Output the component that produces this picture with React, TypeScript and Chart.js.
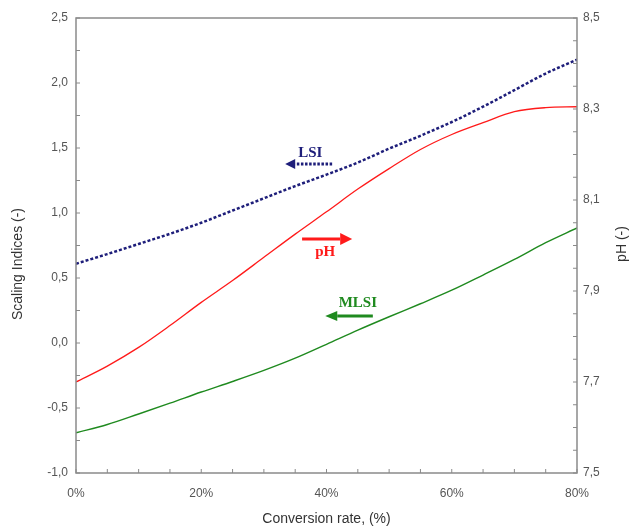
import { useEffect, useRef } from 'react';
import { Chart, registerables } from 'chart.js';

Chart.register(...registerables);

// ---- data ----
const conversion = [0, 5, 10, 15, 20, 25, 30, 35, 40, 45, 50, 55, 60, 65, 70, 75, 80];
const lsi = [0.61, 0.684, 0.762, 0.84, 0.925, 1.019, 1.113, 1.207, 1.295, 1.388, 1.495, 1.594, 1.7, 1.818, 1.945, 2.073, 2.18];
const mlsi = [-0.69, -0.627, -0.546, -0.463, -0.377, -0.296, -0.211, -0.117, -0.01, 0.099, 0.202, 0.302, 0.406, 0.523, 0.643, 0.772, 0.885];
const ph = [7.7, 7.735, 7.776, 7.824, 7.875, 7.923, 7.974, 8.025, 8.074, 8.124, 8.169, 8.211, 8.244, 8.27, 8.294, 8.303, 8.305];

const xTickLabels = ['0%', '20%', '40%', '60%', '80%'];
const leftRange = { min: -1, max: 2.5, step: 0.25 };
const rightRange = { min: 7.5, max: 8.5, step: 0.05 };

// annotation anchors in data units (x in %, y in left-axis units)
const lsiNote = { text: 'LSI', textX: 37.4, textY: 1.462, fromX: 40.9, toX: 33.4, arrowY: 1.377 };
const phNote = { text: 'pH', textX: 39.8, textY: 0.70, fromX: 36.1, toX: 44.1, arrowY: 0.80 };
const mlsiNote = { text: 'MLSI', textX: 45.0, textY: 0.308, fromX: 47.4, toX: 39.8, arrowY: 0.208 };

const NAVY = '#1e1e7a';
const RED = '#ff1a1a';
const GREEN = '#1f8a1f';
const AXIS = '#8a8a8a';
const TICK_TEXT = '#555555';
const TITLE_TEXT = '#333333';

const fmt = (v: number) => v.toFixed(1).replace('.', ',');

const framePlugin = {
  id: 'frame',
  afterDatasetsDraw(chart: any) {
    const { ctx, chartArea: a, scales } = chart;
    ctx.save();
    ctx.strokeStyle = AXIS;
    ctx.lineWidth = 1.5;
    ctx.strokeRect(a.left, a.top, a.right - a.left, a.bottom - a.top);
    ctx.lineWidth = 1;
    const len = 4;
    ctx.beginPath();
    for (const t of scales.x.ticks) {
      const px = scales.x.getPixelForValue(t.value);
      ctx.moveTo(px, a.bottom);
      ctx.lineTo(px, a.bottom - len);
    }
    for (const t of scales.y.ticks) {
      const py = scales.y.getPixelForValue(t.value);
      ctx.moveTo(a.left, py);
      ctx.lineTo(a.left + len, py);
    }
    for (const t of scales.y1.ticks) {
      const py = scales.y1.getPixelForValue(t.value);
      ctx.moveTo(a.right, py);
      ctx.lineTo(a.right - len, py);
    }
    ctx.stroke();

    // vertical axis titles (both read bottom-to-top)
    ctx.fillStyle = TITLE_TEXT;
    ctx.font = "14px 'Liberation Sans', Arial, sans-serif";
    ctx.textAlign = 'center';
    ctx.textBaseline = 'middle';
    ctx.save();
    ctx.translate(18, 264);
    ctx.rotate(-Math.PI / 2);
    ctx.fillText('Scaling Indices (-)', 0, 0);
    ctx.restore();
    ctx.save();
    ctx.translate(622, 244);
    ctx.rotate(-Math.PI / 2);
    ctx.fillText('pH (-)', 0, 0);
    ctx.restore();
    ctx.restore();
  },
};

function drawArrow(ctx: CanvasRenderingContext2D, x1: number, x2: number, y: number, color: string, dotted: boolean, headLen: number, headHalf: number) {
  const dir = Math.sign(x2 - x1);
  ctx.save();
  ctx.strokeStyle = color;
  ctx.fillStyle = color;
  ctx.lineWidth = 3;
  if (dotted) ctx.setLineDash([2.5, 1.6]);
  ctx.beginPath();
  ctx.moveTo(x1, y);
  ctx.lineTo(x2 - dir * headLen, y);
  ctx.stroke();
  ctx.setLineDash([]);
  ctx.beginPath();
  ctx.moveTo(x2, y);
  ctx.lineTo(x2 - dir * headLen, y - headHalf);
  ctx.lineTo(x2 - dir * headLen, y + headHalf);
  ctx.closePath();
  ctx.fill();
  ctx.restore();
}

const notePlugin = {
  id: 'notes',
  afterDatasetsDraw(chart: any) {
    const { ctx, scales } = chart;
    const X = (v: number) => scales.x.getPixelForValue(v);
    const Y = (v: number) => scales.y.getPixelForValue(v);
    ctx.save();
    ctx.font = "bold 15px 'Liberation Serif', 'Times New Roman', serif";
    ctx.textAlign = 'center';
    ctx.textBaseline = 'middle';
    const notes = [
      { n: lsiNote, c: NAVY, dotted: true, hl: 10, hh: 5 },
      { n: phNote, c: RED, dotted: false, hl: 12, hh: 6 },
      { n: mlsiNote, c: GREEN, dotted: false, hl: 12, hh: 5 },
    ];
    for (const { n, c, dotted, hl, hh } of notes) {
      drawArrow(ctx, X(n.fromX), X(n.toX), Y(n.arrowY), c, dotted, hl, hh);
      ctx.fillStyle = c;
      ctx.fillText(n.text, X(n.textX), Y(n.textY));
    }
    ctx.restore();
  },
};

export default function App() {
  const ref = useRef<HTMLCanvasElement>(null);
  useEffect(() => {
    Chart.defaults.font.family = "'Liberation Sans', Arial, sans-serif";
    const chart = new Chart(ref.current as HTMLCanvasElement, {
      type: 'line',
      data: {
        datasets: [
          {
            label: 'LSI',
            data: conversion.map((c, i) => ({ x: c, y: lsi[i] })),
            yAxisID: 'y',
            borderColor: NAVY,
            borderWidth: 2.5,
            borderDash: [3, 2],
            pointRadius: 0,
            cubicInterpolationMode: 'monotone',
          },
          {
            label: 'pH',
            data: conversion.map((c, i) => ({ x: c, y: ph[i] })),
            yAxisID: 'y1',
            borderColor: RED,
            borderWidth: 1.3,
            pointRadius: 0,
            cubicInterpolationMode: 'monotone',
          },
          {
            label: 'MLSI',
            data: conversion.map((c, i) => ({ x: c, y: mlsi[i] })),
            yAxisID: 'y',
            borderColor: GREEN,
            borderWidth: 1.4,
            pointRadius: 0,
            cubicInterpolationMode: 'monotone',
          },
        ],
      } as any,
      options: {
        animation: false,
        responsive: false,
        layout: { padding: { top: 18, left: 0, right: 0, bottom: 0 } },
        plugins: { legend: { display: false }, tooltip: { enabled: false } },
        scales: {
          x: {
            type: 'linear',
            min: 0,
            max: 80,
            afterFit: (s: any) => { s.height = 57; },
            grid: { display: false, drawTicks: false },
            border: { display: false },
            ticks: {
              stepSize: 5,
              autoSkip: false,
              maxRotation: 0,
              padding: 13,
              color: TICK_TEXT,
              font: { size: 12 },
              callback: (v: any) => (Number(v) % 20 === 0 ? xTickLabels[Number(v) / 20] : ''),
            },
            title: {
              display: true,
              text: 'Conversion rate, (%)',
              color: TITLE_TEXT,
              font: { size: 14 },
              padding: { top: 0, bottom: 2 },
            },
          },
          y: {
            position: 'left',
            min: leftRange.min,
            max: leftRange.max,
            afterFit: (s: any) => { s.width = 76; },
            grid: { display: false, drawTicks: false },
            border: { display: false },
            ticks: {
              stepSize: leftRange.step,
              autoSkip: false,
              padding: 8,
              color: TICK_TEXT,
              font: { size: 12 },
              callback: (v: any) => {
                const n = Number(v);
                return Math.abs(n * 2 - Math.round(n * 2)) < 1e-6 ? fmt(n) : '';
              },
            },
          },
          y1: {
            position: 'right',
            min: rightRange.min,
            max: rightRange.max,
            afterFit: (s: any) => { s.width = 55; },
            grid: { display: false, drawTicks: false },
            border: { display: false },
            ticks: {
              stepSize: rightRange.step,
              autoSkip: false,
              padding: 6,
              color: TICK_TEXT,
              font: { size: 12 },
              callback: (v: any) => {
                const n = Number(v);
                const k = Math.round((n - rightRange.min) / rightRange.step);
                return k % 4 === 0 ? fmt(n) : '';
              },
            },
          },
        },
      } as any,
      plugins: [framePlugin, notePlugin],
    });
    return () => chart.destroy();
  }, []);
  return (
    <div style={{ position: 'fixed', left: 0, top: 0, width: 632, height: 530, background: '#fff' }}>
      <canvas ref={ref} width={632} height={530} />
    </div>
  );
}
